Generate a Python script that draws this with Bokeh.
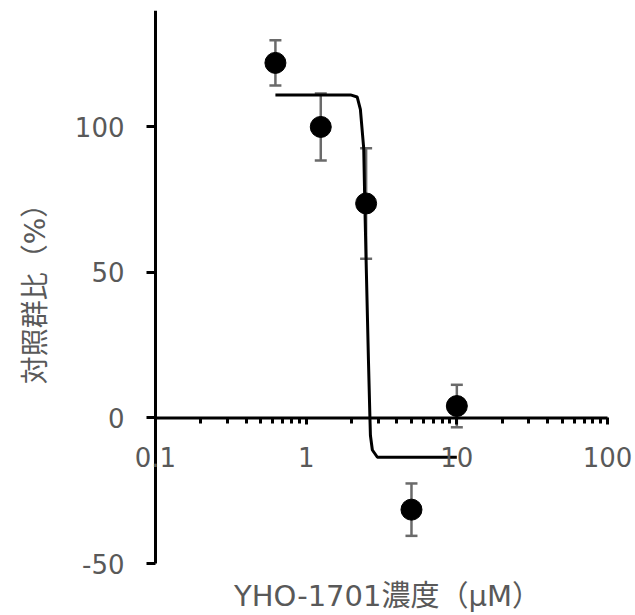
import math
from bokeh.plotting import figure
from bokeh.models import (LogAxis, LinearAxis, FixedTicker, ColumnDataSource, Whisker,
                          TeeHead, Label)
from bokeh.embed import file_html
from bokeh.resources import INLINE

# ---- data ----
conc = [0.625, 1.25, 2.5, 5.0, 10.0]
ratio = [122.0, 100.0, 73.7, -31.5, 4.1]
sd = [7.8, 11.5, 19.0, 9.0, 7.3]

fit_x = [0.625, 1.0, 1.5, 1.97, 2.18, 2.29, 2.41, 2.45, 2.51, 2.59, 2.65, 2.67, 2.75, 2.97, 5.0, 10.0]
fit_y = [111, 111, 111, 111, 110.3, 106, 92.6, 73.7, 50, 20, 0, -6, -11, -13.5, -13.5, -13.5]

y_ticks = [-50, 0, 50, 100]
y_tick_labels = ["-50", "0", "50", "100"]
x_ticks = [0.1, 1, 10, 100]
x_tick_labels = ["0.1", "1", "10", "100"]
x_minor = [m * d for d in (0.1, 1, 10) for m in range(2, 10)]
y_min, y_max = -50, 140

x_title = "YHO-1701濃度（μM）"
y_title = "対照群比（%）"

GRAY = "#595959"
LATIN = "DejaVu Sans"
MIXED = "DejaVu Sans, Noto Sans CJK JP"

# ---- layout (pixels) ----
W, H = 632, 612
AX_LEFT, AX_RIGHT = 155, 607        # where x_ticks[0] and x_ticks[-1] fall
AX_TOP, AX_BOTTOM = 10, 563         # where y_max and y_min fall
X_TITLE_Y = 595
Y_TITLE_X = 35
px_per_dec = (AX_RIGHT - AX_LEFT) / (math.log10(x_ticks[-1]) - math.log10(x_ticks[0]))
x_start = 10 ** (math.log10(x_ticks[0]) - AX_LEFT / px_per_dec)
x_end = 10 ** (math.log10(x_ticks[-1]) + (W - AX_RIGHT) / px_per_dec)
px_per_unit = (AX_BOTTOM - AX_TOP) / (y_max - y_min)
y_start = y_min - (H - AX_BOTTOM) / px_per_unit

p = figure(x_axis_type="log", x_range=(x_start, x_end), y_range=(y_start, y_max),
           frame_width=W, frame_height=H - AX_TOP,
           min_border_left=0, min_border_right=0, min_border_top=AX_TOP, min_border_bottom=0,
           output_backend="svg", toolbar_location=None,
           x_axis_location=None, y_axis_location=None)
p.outline_line_color = None
p.grid.visible = False
p.background_fill_color = "white"

# y axis crossing at x = 0.1 (ticks + labels; line drawn from y_min to y_max)
ya = LinearAxis(fixed_location=x_ticks[0], ticker=FixedTicker(ticks=y_ticks),
                major_label_overrides={t: s for t, s in zip(y_ticks, y_tick_labels)})
ya.axis_line_color = None
ya.minor_tick_line_color = None
ya.major_tick_in = 0
ya.major_tick_out = 9
ya.major_tick_line_width = 3
ya.major_label_text_font = LATIN
ya.major_label_text_font_size = "26px"
ya.major_label_text_color = GRAY
ya.major_label_standoff = 22
p.add_layout(ya, "left")
p.line([x_ticks[0], x_ticks[0]], [y_min, y_max], line_color="black", line_width=3)

# y axis title, centred on the axis
p.add_layout(Label(x=Y_TITLE_X, y=(y_min + y_max) / 2, x_units="screen", y_units="data",
                   text=y_title, angle=math.pi / 2,
                   text_align="center", text_baseline="middle",
                   text_font=MIXED, text_font_size="28px", text_color=GRAY))

# x axis crossing at y = 0 (ticks + labels; line drawn between the end ticks)
xa = LogAxis(fixed_location=0,
             ticker=FixedTicker(ticks=x_ticks, minor_ticks=x_minor),
             major_label_overrides={t: s for t, s in zip(x_ticks, x_tick_labels)})
xa.axis_line_color = None
xa.major_tick_in = 0
xa.major_tick_out = 7
xa.minor_tick_in = 0
xa.minor_tick_out = 6
xa.major_tick_line_width = 3
xa.minor_tick_line_width = 3
xa.major_label_text_font = LATIN
xa.major_label_text_font_size = "26px"
xa.major_label_text_color = GRAY
xa.major_label_standoff = 22
p.add_layout(xa, "below")
p.line([x_ticks[0], x_ticks[-1]], [0, 0], line_color="black", line_width=3)

# x axis title, centred under the axis
p.add_layout(Label(x=math.sqrt(x_ticks[0] * x_ticks[-1]), y=H - X_TITLE_Y,
                   x_units="data", y_units="screen", text=x_title, x_offset=6,
                   text_align="center", text_baseline="middle",
                   text_font=MIXED, text_font_size="29px", text_color=GRAY))

# error bars
src = ColumnDataSource(dict(x=conc, y=ratio,
                            lo=[v - e for v, e in zip(ratio, sd)],
                            hi=[v + e for v, e in zip(ratio, sd)]))
wh = Whisker(base="x", lower="lo", upper="hi", source=src, level="underlay",
             line_color="#6a6a6a", line_width=2.5,
             upper_head=TeeHead(size=12, line_color="#6a6a6a", line_width=2.5),
             lower_head=TeeHead(size=12, line_color="#6a6a6a", line_width=2.5))
p.add_layout(wh)

p.line(fit_x, fit_y, line_color="black", line_width=3)
p.scatter("x", "y", source=src, size=21, fill_color="black", line_color="black")

open("out.html", "w").write(file_html(p, INLINE))
